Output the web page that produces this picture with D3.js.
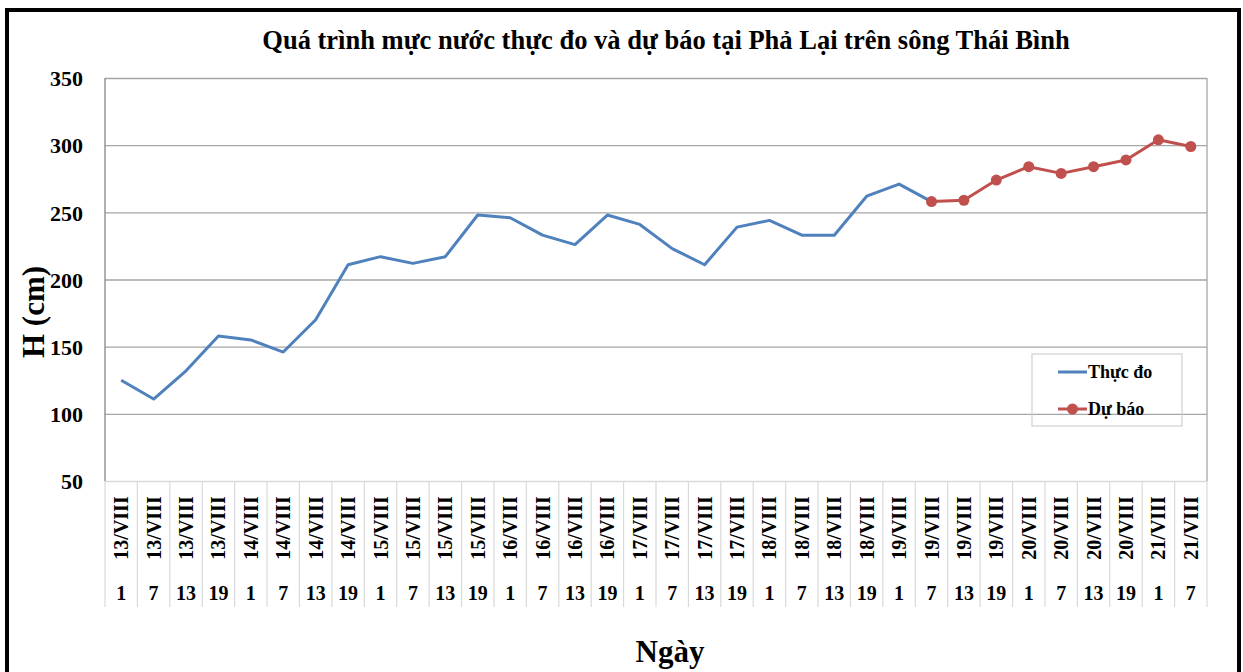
<!DOCTYPE html>
<html>
<head>
<meta charset="utf-8">
<script src="https://cdn.jsdelivr.net/npm/d3@7"></script>
<style>
  body { margin: 0; background: #fff; }
  svg text { font-family: "Liberation Serif", "Times New Roman", serif; font-weight: bold; fill: #000; }
</style>
</head>
<body>
<div id="chart"></div>
<script>
// data
var days = ['13/VIII','13/VIII','13/VIII','13/VIII','14/VIII','14/VIII','14/VIII','14/VIII',
            '15/VIII','15/VIII','15/VIII','15/VIII','16/VIII','16/VIII','16/VIII','16/VIII',
            '17/VIII','17/VIII','17/VIII','17/VIII','18/VIII','18/VIII','18/VIII','18/VIII',
            '19/VIII','19/VIII','19/VIII','19/VIII','20/VIII','20/VIII','20/VIII','20/VIII',
            '21/VIII','21/VIII'];
var hours = [1,7,13,19, 1,7,13,19, 1,7,13,19, 1,7,13,19, 1,7,13,19, 1,7,13,19, 1,7,13,19, 1,7,13,19, 1,7];
var measured = [125,111,132,158,155,146,170,211,217,212,217,248,246,233,226,248,241,223,211,239,244,233,233,262,271,258,
                null,null,null,null,null,null,null,null];
var forecast = [null,null,null,null,null,null,null,null,null,null,null,null,null,null,null,null,null,null,null,null,
                null,null,null,null,null,258,259,274,284,279,284,289,304,299];
var yTicks = [50,100,150,200,250,300,350];

var W = 1243, H = 672;
var pLeft = 105, pRight = 1207, pTop = 78, pBottom = 481;

var svg = d3.select('#chart').append('svg').attr('width', W).attr('height', H);

// outer frame
svg.append('rect').attr('x', 7).attr('y', 10).attr('width', 1232).attr('height', 700)
    .attr('fill', 'none').attr('stroke', '#000').attr('stroke-width', 4);

var x = d3.scaleBand().domain(d3.range(days.length)).range([pLeft, pRight]).padding(0);
var y = d3.scaleLinear().domain([50, 350]).range([pBottom, pTop]);

// gridlines + y labels
var yAxis = d3.axisLeft(y).tickValues(yTicks).tickSize(-(pRight - pLeft)).tickPadding(22);
var gy = svg.append('g').attr('transform', 'translate(' + pLeft + ',0)').call(yAxis);
gy.select('.domain').remove();
gy.selectAll('.tick line').attr('stroke', '#a6a6a6').attr('stroke-width', 1.3);
gy.selectAll('.tick').filter(function(d){ return d === 50; }).select('line').attr('stroke', '#d9d9d9');
gy.selectAll('.tick text').style('font-size', '22px').attr('dy', '0.35em');

// plot border left and right
svg.append('line').attr('x1', pLeft).attr('x2', pLeft).attr('y1', pTop).attr('y2', pBottom)
    .attr('stroke', '#868686').attr('stroke-width', 1.3);
svg.append('line').attr('x1', pRight).attr('x2', pRight).attr('y1', pTop).attr('y2', pBottom)
    .attr('stroke', '#a6a6a6').attr('stroke-width', 1.3);

// category table lines
var bounds = d3.range(days.length + 1).map(function(i){ return pLeft + i * x.step(); });
svg.append('g').selectAll('line').data(bounds).enter().append('line')
    .attr('x1', function(d){ return d; }).attr('x2', function(d){ return d; })
    .attr('y1', pBottom).attr('y2', 607)
    .attr('stroke', '#d9d9d9').attr('stroke-width', 1.2);

// day labels (rotated) and hour labels
var gx = svg.append('g');
gx.selectAll('text.day').data(days).enter().append('text').attr('class', 'day')
    .attr('transform', function(d, i){ return 'translate(' + (x(i) + x.bandwidth() / 2 + 7) + ',528) rotate(-90)'; })
    .attr('text-anchor', 'middle')
    .style('font-size', '20px')
    .text(function(d){ return d; });
gx.selectAll('text.hour').data(hours).enter().append('text').attr('class', 'hour')
    .attr('x', function(d, i){ return x(i) + x.bandwidth() / 2; })
    .attr('y', 600)
    .attr('text-anchor', 'middle')
    .style('font-size', '20px')
    .text(function(d){ return d; });

// lines
var line = d3.line()
    .defined(function(d){ return d != null; })
    .x(function(d, i){ return x(i) + x.bandwidth() / 2; })
    .y(function(d){ return y(d); });

svg.append('path').datum(measured).attr('d', line)
    .attr('fill', 'none').attr('stroke', '#4f81bd').attr('stroke-width', 3).attr('stroke-linejoin', 'round');
svg.append('path').datum(forecast).attr('d', line)
    .attr('fill', 'none').attr('stroke', '#c0504d').attr('stroke-width', 3).attr('stroke-linejoin', 'round');

var fpts = forecast.map(function(v, i){ return {v: v, i: i}; }).filter(function(d){ return d.v != null; });
svg.append('g').selectAll('circle').data(fpts).enter().append('circle')
    .attr('cx', function(d){ return x(d.i) + x.bandwidth() / 2; })
    .attr('cy', function(d){ return y(d.v); })
    .attr('r', 5.5)
    .attr('fill', '#c0504d');

// titles
svg.append('text').attr('x', 666).attr('y', 49).attr('text-anchor', 'middle')
    .style('font-size', '26.5px')
    .text('Quá trình mực nước thực đo và dự báo tại Phả Lại trên sông Thái Bình');
svg.append('text').attr('transform', 'translate(44,312) rotate(-90)').attr('text-anchor', 'middle')
    .style('font-size', '31px').text('H (cm)');
svg.append('text').attr('x', 670).attr('y', 662).attr('text-anchor', 'middle')
    .style('font-size', '31px').text('Ngày');

// legend
var lg = svg.append('g');
lg.append('rect').attr('x', 1032).attr('y', 354).attr('width', 150).attr('height', 72)
    .attr('fill', 'none').attr('stroke', '#d0d0d0').attr('stroke-width', 1.2);
var legendItems = [{name: 'Thực đo', color: '#4f81bd', marker: false, y: 372},
                   {name: 'Dự báo', color: '#c0504d', marker: true, y: 409}];
legendItems.forEach(function(it){
    lg.append('line').attr('x1', 1058).attr('x2', 1087).attr('y1', it.y).attr('y2', it.y)
        .attr('stroke', it.color).attr('stroke-width', 3);
    if (it.marker) lg.append('circle').attr('cx', 1072.5).attr('cy', it.y).attr('r', 5.5).attr('fill', it.color);
    lg.append('text').attr('x', 1088).attr('y', it.y + 6).style('font-size', '18px').text(it.name);
});
</script>
</body>
</html>
